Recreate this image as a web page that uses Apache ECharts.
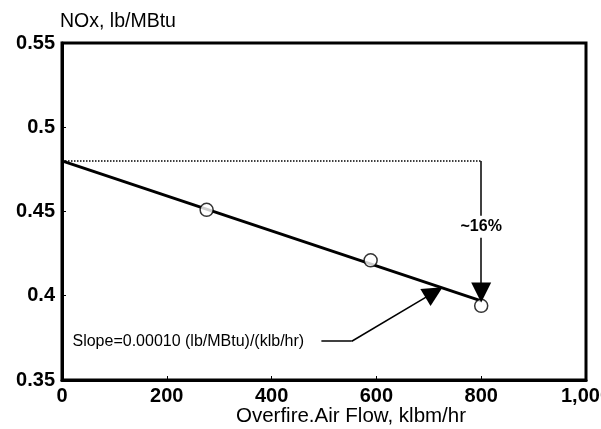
<!DOCTYPE html>
<html><head><meta charset="utf-8">
<script src="https://cdn.jsdelivr.net/npm/echarts@6/dist/echarts.min.js"></script>
<style>html,body{margin:0;padding:0;background:#fff}#c{width:601px;height:429px}</style>
</head><body><div id="c"></div>
<script>
var pointsX = [276, 589, 800];
var pointsY = [0.451, 0.421, 0.394];
var fitX = [0, 800];
var fitY = [0.480, 0.397];
var refLevel = 0.480;
var arrowEnd = 0.402;
var pctText = '~16%';
var pctAt = [800, 0.441];
var slopeText = 'Slope=0.00010 (lb/MBtu)/(klb/hr)';
var slopeLeader = [[495, 0.373], [553, 0.373], [710, 0.402]];
var slopeTextAt = [20, 0.373];

var font = 'Liberation Sans';
var chart = echarts.init(document.getElementById('c'));
chart.setOption({
  animation: false,
  grid: {left: 62, right: 15, top: 43, bottom: 49, show: true, borderColor: '#000', borderWidth: 3,
         containLabel: false, outerBoundsMode: 'none'},
  xAxis: {
    type: 'value', min: 0, max: 1000, interval: 200,
    name: 'Overfire.Air Flow, klbm/hr', nameLocation: 'middle', nameGap: 26, nameMoveOverlap: false,
    nameTextStyle: {fontFamily: font, fontSize: 20.5, color: '#000', padding: [0, 0, 0, 54]},
    axisLine: {lineStyle: {color: '#000', width: 3}},
    axisTick: {inside: true, length: 4, lineStyle: {color: '#000'}},
    axisLabel: {fontFamily: font, fontSize: 20, fontWeight: 'bold', color: '#000', margin: 6,
      formatter: function (v) { return v === 1000 ? '1,000' : String(v); }},
    splitLine: {show: false}
  },
  yAxis: {
    type: 'value', min: 0.35, max: 0.55, interval: 0.05,
    name: 'NOx, lb/MBtu', nameLocation: 'end', nameGap: 11,
    nameTextStyle: {fontFamily: font, fontSize: 19.5, color: '#000', align: 'left', padding: [0, 0, 0, -2]},
    axisLine: {lineStyle: {color: '#000', width: 3}},
    axisTick: {inside: true, length: 4, lineStyle: {color: '#000'}},
    axisLabel: {fontFamily: font, fontSize: 20, fontWeight: 'bold', color: '#000', margin: 7},
    splitLine: {show: false}
  },
  series: [
    {
      type: 'line', data: fitX.map(function (x, i) { return [x, fitY[i]]; }),
      symbol: 'none', lineStyle: {color: '#000', width: 3}, z: 3,
      markLine: {
        silent: true, animation: false,
        data: [
          [{coord: [0, refLevel], symbol: 'none', lineStyle: {type: 'dotted', width: 1.5, color: '#000'}},
           {coord: [800, refLevel], symbol: 'none'}],
          [{coord: [800, refLevel], symbol: 'none', lineStyle: {type: 'solid', width: 1.5, color: '#000'}},
           {coord: [800, arrowEnd], symbol: 'triangle', symbolSize: 20}],
          [{coord: slopeLeader[0], symbol: 'none', lineStyle: {type: 'solid', width: 1.5, color: '#000'}},
           {coord: slopeLeader[1], symbol: 'none'}],
          [{coord: slopeLeader[1], symbol: 'none', lineStyle: {type: 'solid', width: 1.5, color: '#000'}},
           {coord: slopeLeader[2], symbol: 'triangle', symbolSize: 20}]
        ],
        label: {show: false}
      },
      markPoint: {
        symbol: 'circle', symbolSize: 0, silent: true,
        data: [
          {coord: slopeTextAt, label: {show: true, position: 'right', distance: 0, formatter: slopeText, fontFamily: font, fontSize: 16, color: '#000'}},
          {coord: pctAt, label: {show: true, position: 'inside', formatter: pctText, fontFamily: font, fontSize: 16, fontWeight: 'bold', color: '#000', backgroundColor: '#fff', padding: [3, 1]}}
        ]
      }
    },
    {
      type: 'scatter', data: pointsX.map(function (x, i) { return [x, pointsY[i]]; }),
      symbol: 'circle', symbolSize: 13,
      itemStyle: {color: '#fff', borderColor: '#000', borderWidth: 1.5}, z: 4
    }
  ]
});
</script></body></html>
